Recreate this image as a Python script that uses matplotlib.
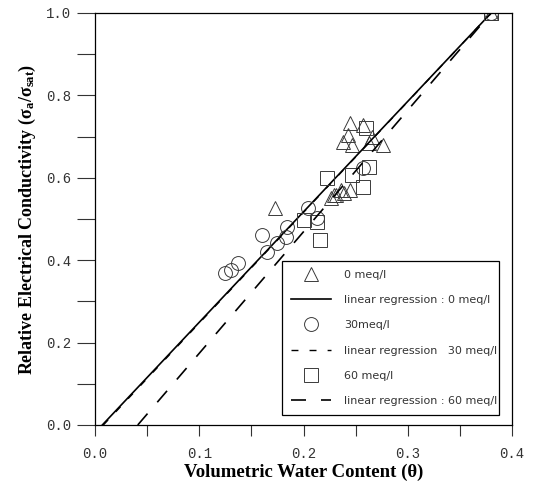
import matplotlib
matplotlib.use("Agg")
import matplotlib.pyplot as plt
from matplotlib.ticker import MultipleLocator

# ---- data ----
tri_x = [0.173, 0.226, 0.231, 0.236, 0.239, 0.245, 0.229, 0.2375, 0.243, 0.245, 0.247,
         0.257, 0.2625, 0.266, 0.276, 0.38]
tri_y = [0.527, 0.551, 0.558, 0.570, 0.563, 0.570, 0.558, 0.687, 0.704, 0.733, 0.680,
         0.728, 0.684, 0.700, 0.680, 1.0]

circ_x = [0.125, 0.130, 0.1375, 0.160, 0.165, 0.175, 0.183, 0.184, 0.204, 0.213, 0.257, 0.38]
circ_y = [0.369, 0.376, 0.393, 0.461, 0.420, 0.442, 0.456, 0.480, 0.527, 0.502, 0.624, 1.0]

sq_x = [0.200, 0.213, 0.216, 0.223, 0.247, 0.257, 0.2625, 0.260, 0.38]
sq_y = [0.498, 0.493, 0.449, 0.600, 0.607, 0.578, 0.626, 0.720, 1.0]

reg0_x = [0.007, 0.38]
reg0_y = [0.0, 1.0]
reg30_x = [0.008, 0.38]
reg30_y = [0.0, 1.0]
reg60_x = [0.041, 0.38]
reg60_y = [0.0, 1.0]

labels = ["0 meq/l", "linear regression : 0 meq/l", "30meq/l",
          "linear regression   30 meq/l", "60 meq/l", "linear regression : 60 meq/l"]

x_ticks = [0.0, 0.1, 0.2, 0.3, 0.4]
y_ticks = [0.0, 0.2, 0.4, 0.6, 0.8, 1.0]

# ---- figure ----
fig = plt.figure(figsize=(5.37, 4.88), dpi=100)
ax = fig.add_axes([95/537, 63/488, 417/537, 412/488])

mk = dict(linestyle="none", markerfacecolor="none", markersize=10,
          markeredgewidth=0.7, markeredgecolor="#3a3a3a")

h1, = ax.plot(tri_x, tri_y, marker="^", **mk)
h2, = ax.plot(reg0_x, reg0_y, color="black", lw=1.2)
h3, = ax.plot(circ_x, circ_y, marker="o", **mk)
h4, = ax.plot(reg30_x, reg30_y, color="black", lw=1.0, dashes=(5, 8))
h5, = ax.plot(sq_x, sq_y, marker="s", **mk)
h6, = ax.plot(reg60_x, reg60_y, color="black", lw=1.2, dashes=(9, 9))

ax.set_xlim(0, 0.4)
ax.set_ylim(0, 1.0)
ax.set_xticks(x_ticks)
ax.set_yticks(y_ticks)
ax.xaxis.set_minor_locator(MultipleLocator(0.05))
ax.yaxis.set_minor_locator(MultipleLocator(0.1))
ax.tick_params(which="both", direction="out", color="#333333", width=0.8)
ax.tick_params(axis="y", which="both", length=13)
ax.tick_params(axis="x", which="both", length=8)
ax.tick_params(labelsize=10, labelcolor="#333333")
for lab in ax.get_xticklabels() + ax.get_yticklabels():
    lab.set_family("Liberation Mono")
ax.tick_params(axis="x", pad=8)
ax.tick_params(axis="y", pad=4)
for s in ax.spines.values():
    s.set_linewidth(0.9)

ax.set_xlabel("Volumetric Water Content (θ)", family="Liberation Serif",
              fontweight="bold", fontsize=13.5, labelpad=2)
ax.set_ylabel(r"Relative Electrical Conductivity ($\mathregular{\sigma_a/\sigma_{sat}}$)",
              family="Liberation Serif", fontweight="bold", fontsize=13, labelpad=6)

leg = ax.legend([h1, h2, h3, h4, h5, h6], labels,
                loc="lower left", bbox_to_anchor=(0.448, 0.024, 0.52, 0.372),
                mode="expand",
                prop={"family": "DejaVu Sans", "size": 8},
                handlelength=3.6, handletextpad=1.2, labelspacing=1.38,
                borderpad=0.8, frameon=True, fancybox=False, framealpha=1,
                borderaxespad=0)
leg.get_frame().set_edgecolor("black")
leg.get_frame().set_linewidth(0.9)
for t in leg.get_texts():
    t.set_color("#333333")

fig.savefig("out.png", dpi=100)
